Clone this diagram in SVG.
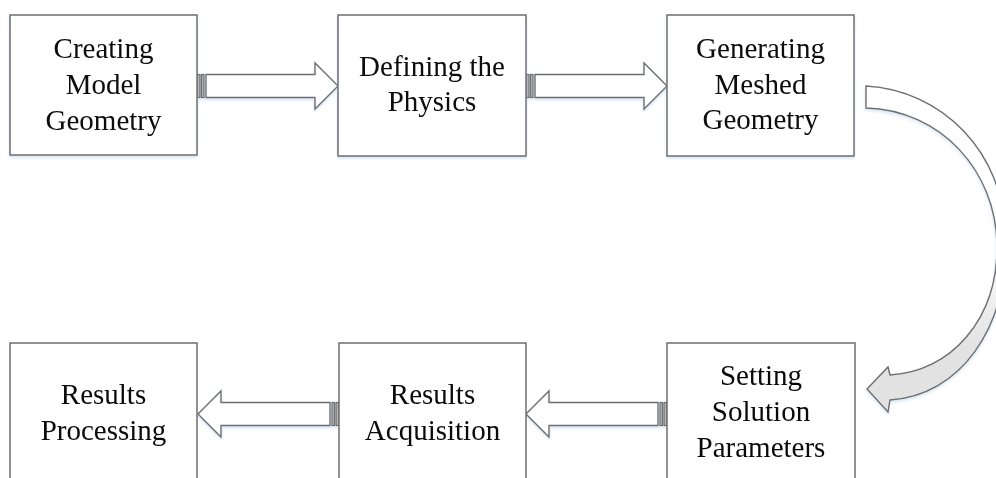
<svg xmlns="http://www.w3.org/2000/svg" width="996" height="478" viewBox="0 0 996 478">
  <style>
    .box { fill: #ffffff; stroke: #6e6e6e; stroke-width: 1.5; }
    .lbl { font-family: "Liberation Serif", "Times New Roman", serif; font-size: 29px; fill: #0a0a0a; text-anchor: middle; }
    .arw { fill: #ffffff; stroke: #6e6e6e; stroke-width: 1.4; stroke-linejoin: miter; }
    .stripe { fill: #b5b5b5; stroke: #6e6e6e; stroke-width: 1.2; }
  </style>
  <defs>
    <filter id="sh" x="-10%" y="-10%" width="120%" height="130%">
      <feDropShadow dx="0" dy="2" stdDeviation="1.5" flood-color="#a9c8ea" flood-opacity="0.45"/>
    </filter>
    <linearGradient id="cg" x1="0" y1="0" x2="0" y2="1">
      <stop offset="0" stop-color="#ffffff"/>
      <stop offset="0.5" stop-color="#ffffff"/>
      <stop offset="0.8" stop-color="#e2e2e2"/>
      <stop offset="1" stop-color="#e2e2e2"/>
    </linearGradient>
    <g id="sarrow">
      <rect class="stripe" x="0" y="-11.5" width="3" height="23"/>
      <rect class="stripe" x="4.5" y="-11.5" width="2.5" height="23"/>
      <polygon class="arw" points="9,-11.5 118,-11.5 118,-23 141,0 118,23 118,11.5 9,11.5"/>
    </g>
  </defs>

  <g id="connectors" filter="url(#sh)">
    <use href="#sarrow" transform="translate(197,86)"/>
    <use href="#sarrow" transform="translate(526,86)"/>
    <use href="#sarrow" transform="translate(667,414) scale(-1,1)"/>
    <use href="#sarrow" transform="translate(339,414) scale(-1,1)"/>
    <path d="M866,86 C940,90 1005,150 1006,240 C1007,330 960,395 890,400 L888,412 L867,389 L888,367 L890,375 C950,372 998,320 997,245 C996,170 940,110 866,108 Z" fill="url(#cg)" stroke="#6e6e6e" stroke-width="1.4" stroke-linejoin="miter"/>
  </g>

  <g id="n1" filter="url(#sh)">
    <rect class="box" x="10" y="15" width="187" height="140"/>
    <text class="lbl" x="103.5" y="58">Creating</text>
    <text class="lbl" x="103.5" y="94">Model</text>
    <text class="lbl" x="103.5" y="130">Geometry</text>
  </g>
  <g id="n2" filter="url(#sh)">
    <rect class="box" x="338" y="15" width="188" height="141"/>
    <text class="lbl" x="432" y="76">Defining the</text>
    <text class="lbl" x="432" y="111">Physics</text>
  </g>
  <g id="n3" filter="url(#sh)">
    <rect class="box" x="667" y="15" width="187" height="141"/>
    <text class="lbl" x="760.5" y="58">Generating</text>
    <text class="lbl" x="760.5" y="94">Meshed</text>
    <text class="lbl" x="760.5" y="129">Geometry</text>
  </g>
  <g id="n4">
    <rect class="box" x="10" y="343" width="187" height="150"/>
    <text class="lbl" x="103.5" y="404">Results</text>
    <text class="lbl" x="103.5" y="440">Processing</text>
  </g>
  <g id="n5">
    <rect class="box" x="339" y="343" width="187" height="150"/>
    <text class="lbl" x="432.5" y="404">Results</text>
    <text class="lbl" x="432.5" y="440">Acquisition</text>
  </g>
  <g id="n6">
    <rect class="box" x="667" y="343" width="188" height="150"/>
    <text class="lbl" x="761" y="385">Setting</text>
    <text class="lbl" x="761" y="421">Solution</text>
    <text class="lbl" x="761" y="457">Parameters</text>
  </g>
</svg>
